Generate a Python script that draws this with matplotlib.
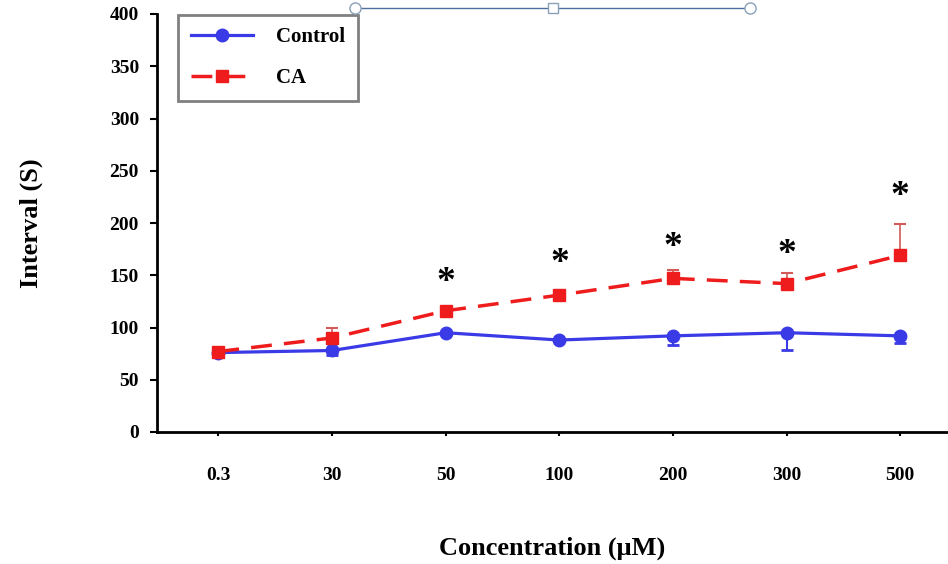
import numpy as np
import matplotlib
matplotlib.use("Agg")
from matplotlib import pyplot as plt, lines

conc_labels = ['0.3', '30', '50', '100', '200', '300', '500']
control_mean = [76, 78, 95, 88, 92, 95, 92]
control_err = [0, 4, 0, 0, 9, 17, 7]
ca_mean = [77, 90, 116, 131, 147, 142, 169]
ca_err = [0, 10, 0, 3, 8, 10, 30]
star_idx = [2, 3, 4, 5, 6]
star_y = [143, 161, 177, 170, 225]

plt.rcParams['font.family'] = ['Liberation Serif', 'DejaVu Serif']
plt.rcParams['font.weight'] = 'bold'

W, H = 948, 564
fig = plt.figure(figsize=(W/100, H/100), dpi=100)
ax = fig.add_axes([157/W, 1-432/H, 1-157/W, (432-14)/H])

xs = np.arange(len(conc_labels))
blue = '#3a3ae6'
red = '#ee1c1c'

# control: error bars point down, CA: error bars point up
ax.errorbar(xs, control_mean, yerr=[control_err, np.zeros(len(xs))], fmt='none',
            ecolor=blue, elinewidth=1.5, capsize=4, capthick=2, zorder=2)
ax.errorbar(xs, ca_mean, yerr=[np.zeros(len(xs)), ca_err], fmt='none',
            ecolor='#d35a5a', elinewidth=1.2, capsize=4, capthick=1.5, zorder=2)
l1, = ax.plot(xs, control_mean, '-', color=blue, lw=2.3, marker='o', ms=9, zorder=3)
l2, = ax.plot(xs, ca_mean, '--', color=red, lw=2.5, marker='s', ms=8,
              dashes=(6, 3.5), zorder=4)

for i, y in zip(star_idx, star_y):
    ax.text(xs[i], y, '*', ha='center', va='center', fontsize=27, color='black')

ax.set_xlim(-0.54, 6.42)
ax.set_ylim(0, 400)
ax.set_yticks(np.arange(0, 401, 50))
ax.set_xticks(xs)
ax.set_xticklabels(conc_labels)
for s in ['top', 'right']:
    ax.spines[s].set_visible(False)
for s in ['left', 'bottom']:
    ax.spines[s].set_linewidth(2)
ax.tick_params(axis='y', direction='out', length=5, width=1.5, labelsize=14, pad=8)
ax.tick_params(axis='x', direction='out', length=3, width=1.5, labelsize=14, pad=22)
ax.set_ylabel('Interval (S)', fontsize=19, fontweight='bold', labelpad=48)
ax.set_xlabel('Concentration (μM)', fontsize=19, fontweight='bold', labelpad=38)

leg = ax.legend([l1, l2], ['Control', 'CA'], loc='upper left',
                bbox_to_anchor=(178/W, 1-15/H), bbox_transform=fig.transFigure,
                borderaxespad=0, fancybox=False, framealpha=1, edgecolor='#808080',
                prop={'size': 15, 'weight': 'bold'}, handlelength=3.0,
                handletextpad=1.1, borderpad=0.6, labelspacing=1.0)
leg.get_frame().set_linewidth(2)

# selection handle line at the top of the picture
fig.add_artist(lines.Line2D([355/W, 750/W], [1-8/H, 1-8/H], color='#4f6f9f', lw=1,
                            transform=fig.transFigure))
fig.add_artist(lines.Line2D([355/W, 750/W], [1-8/H, 1-8/H], ls='none', marker='o', ms=8,
                            mfc='white', mec='#8aa0b8', transform=fig.transFigure))
fig.add_artist(lines.Line2D([553/W], [1-8/H], ls='none', marker='s', ms=7,
                            mfc='white', mec='#8aa0b8', transform=fig.transFigure))

fig.savefig('out.png', dpi=100, facecolor='white')
plt.close(fig)
